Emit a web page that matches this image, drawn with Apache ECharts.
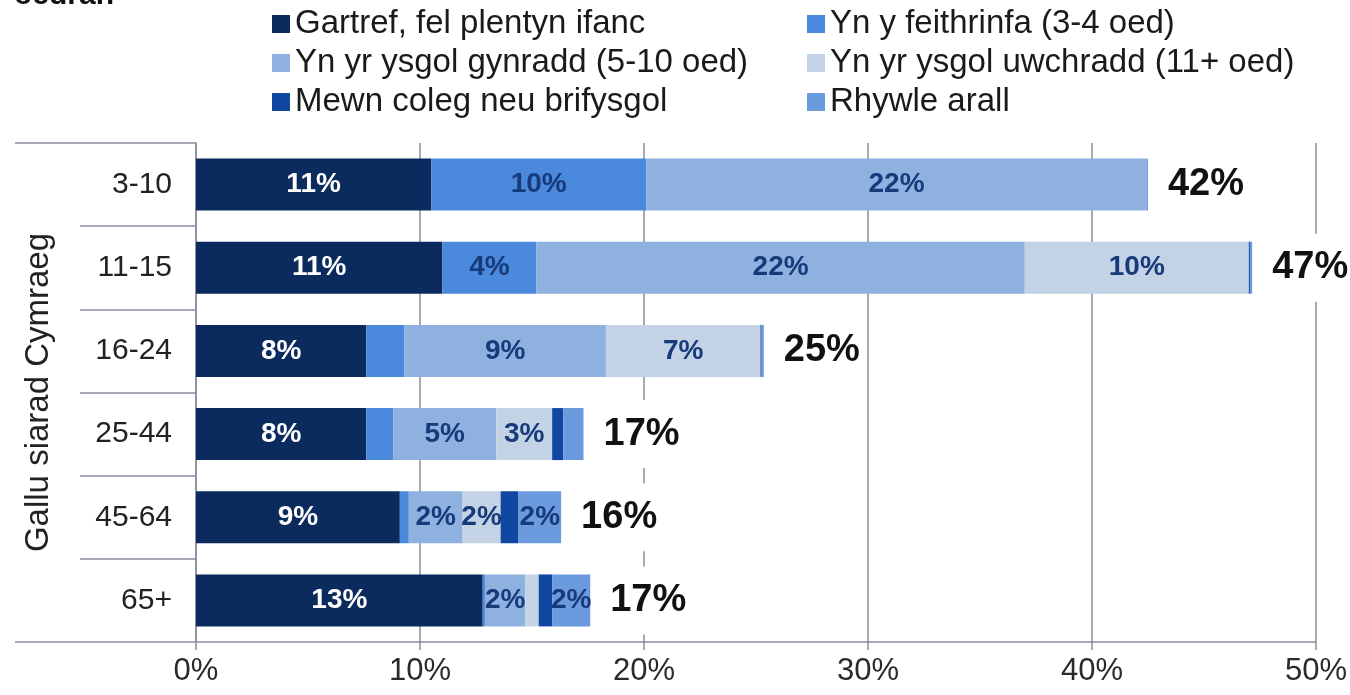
<!DOCTYPE html>
<html>
<head>
<meta charset="utf-8">
<script src="https://cdn.jsdelivr.net/npm/echarts@6/dist/echarts.min.js"></script>
<style>
  html, body { margin: 0; padding: 0; background: #fff; }
  #chart { width: 1350px; height: 695px; }
</style>
</head>
<body>
<div id="chart"></div>
<script>
// age groups (top to bottom)
const categories = ['3-10', '11-15', '16-24', '25-44', '45-64', '65+'];

// share (%) by where Welsh was learnt
const gartref    = [10.5, 11.0, 7.6, 7.6, 9.1, 12.8];
const feithrinfa = [9.6, 4.2, 1.7, 1.2, 0.4, 0.1];
const gynradd    = [22.35, 21.8, 9.0, 4.6, 2.4, 1.8];
const uwchradd   = [0, 10.0, 6.9, 2.5, 1.7, 0.6];
const coleg      = [0, 0.05, 0.05, 0.5, 0.8, 0.6];
const arall      = [0.05, 0.1, 0.1, 0.9, 1.9, 1.7];

// labels printed in the bars
const gartrefLabels    = ['11%', '11%', '8%', '8%', '9%', '13%'];
const feithrinfaLabels = ['10%', '4%', '', '', '', ''];
const gynraddLabels    = ['22%', '22%', '9%', '5%', '2%', '2%'];
const uwchraddLabels   = ['', '10%', '7%', '3%', '2%', ''];
const colegLabels      = ['', '', '', '', '', ''];
const arallLabels      = ['', '', '', '', '2%', '2%'];
const totalLabels      = ['42%', '47%', '25%', '17%', '16%', '17%'];

const xTicks = [0, 10, 20, 30, 40, 50];

const FONT = '"Liberation Sans", Arial, sans-serif';
const GRID = '#8a8d9c';

const chart = echarts.init(document.getElementById('chart'));

function stackSeries(name, values, labels, color, labelColor) {
    return {
        name: name,
        type: 'bar',
        stack: 'total',
        barWidth: 52,
        data: values,
        itemStyle: { color: color },
        label: {
            show: true,
            position: 'inside',
            fontFamily: FONT,
            fontWeight: 'bold',
            fontSize: 28,
            color: labelColor,
            formatter: p => labels[p.dataIndex]
        },
        emphasis: { disabled: true }
    };
}

const series = [
    stackSeries('Gartref, fel plentyn ifanc', gartref, gartrefLabels, '#0b2a5e', '#ffffff'),
    stackSeries('Yn y feithrinfa (3-4 oed)', feithrinfa, feithrinfaLabels, '#4a89dc', '#173a7a'),
    stackSeries('Yn yr ysgol gynradd (5-10 oed)', gynradd, gynraddLabels, '#8fb1e0', '#173a7a'),
    stackSeries('Yn yr ysgol uwchradd (11+ oed)', uwchradd, uwchraddLabels, '#c4d2e6', '#173a7a'),
    stackSeries('Mewn coleg neu brifysgol', coleg, colegLabels, '#1047a0', '#173a7a'),
    stackSeries('Rhywle arall', arall, arallLabels, '#6c9ade', '#173a7a')
];

// totals sit just past the end of each bar
const totals = categories.map((c, i) =>
    gartref[i] + feithrinfa[i] + gynradd[i] + uwchradd[i] + coleg[i] + arall[i]);

series.push({
    name: 'total',
    type: 'scatter',
    symbolSize: 0,
    z: 5,
    itemStyle: { opacity: 1 },
    data: totals.map((t, i) => [t, i]),
    label: {
        show: true,
        position: 'right',
        distance: 14,
        fontFamily: FONT,
        fontWeight: 'bold',
        fontSize: 38,
        color: '#111',
        backgroundColor: '#fff',
        padding: [15, 6],
        formatter: p => totalLabels[p.dataIndex]
    },
    emphasis: { disabled: true }
});

const legendText = { fontFamily: FONT, fontSize: 33, color: '#1a1a1a', lineHeight: 34 };

chart.setOption({
    backgroundColor: '#fff',
    animation: false,
    title: {
        text: 'oedran',
        left: 14,
        top: -19,
        padding: 0,
        textStyle: { fontFamily: FONT, fontWeight: 'bold', fontSize: 30, color: '#111' }
    },
    legend: [
        {
            orient: 'vertical',
            left: 272,
            top: 7,
            padding: 0,
            itemGap: 5,
            itemWidth: 18,
            itemHeight: 18,
            icon: 'rect',
            selectedMode: false,
            textStyle: legendText,
            data: ['Gartref, fel plentyn ifanc', 'Yn yr ysgol gynradd (5-10 oed)', 'Mewn coleg neu brifysgol']
        },
        {
            orient: 'vertical',
            left: 807,
            top: 7,
            padding: 0,
            itemGap: 5,
            itemWidth: 18,
            itemHeight: 18,
            icon: 'rect',
            selectedMode: false,
            textStyle: legendText,
            data: ['Yn y feithrinfa (3-4 oed)', 'Yn yr ysgol uwchradd (11+ oed)', 'Rhywle arall']
        }
    ],
    grid: { left: 196, right: 34, top: 143, bottom: 53, containLabel: false },
    xAxis: {
        type: 'value',
        min: xTicks[0],
        max: xTicks[xTicks.length - 1],
        interval: 10,
        axisLine: { show: true, lineStyle: { color: GRID, width: 1.5 } },
        axisTick: { show: true, length: 8, lineStyle: { color: GRID, width: 1.5 } },
        axisLabel: {
            fontFamily: FONT, fontSize: 31, color: '#2a2a2a', margin: 14,
            formatter: '{value}%'
        },
        splitLine: { show: true, lineStyle: { color: GRID, width: 1.5 } }
    },
    yAxis: [
        {
            type: 'category',
            inverse: true,
            data: categories,
            axisLine: { show: true, lineStyle: { color: GRID, width: 1.5 } },
            axisTick: { show: true, length: 116, lineStyle: { color: GRID, width: 1.5 } },
            axisLabel: { fontFamily: FONT, fontSize: 30, color: '#222', margin: 24 }
        },
        {
            type: 'category',
            position: 'left',
            data: ['Gallu siarad Cymraeg'],
            axisLine: { show: false },
            axisTick: { show: true, length: 181, lineStyle: { color: GRID, width: 1.5 } },
            axisLabel: { rotate: 90, fontFamily: FONT, fontSize: 33, color: '#222', margin: 141 }
        }
    ],
    series: series
});
</script>
</body>
</html>
